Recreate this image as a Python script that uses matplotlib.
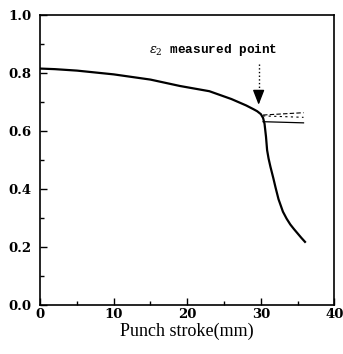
import numpy as np
import matplotlib.pyplot as plt
from matplotlib.ticker import MultipleLocator

# main curve: strain ratio vs punch stroke
stroke = [0, 2, 5, 10, 15, 19, 23, 26, 28, 29, 29.5, 30.0, 30.3, 30.5, 30.7, 30.85, 31.05, 31.3, 31.7,
          32.0, 32.4, 33.0, 33.5, 34.0, 34.5, 35.0, 35.5, 36.0]
ratio = [0.815, 0.813, 0.808, 0.795, 0.777, 0.755, 0.737, 0.71, 0.688, 0.675, 0.668, 0.658, 0.645,
         0.625, 0.58, 0.534, 0.505, 0.477, 0.437, 0.405, 0.365, 0.322, 0.298, 0.278, 0.262, 0.247,
         0.232, 0.218]

# branches after the measured point
branch_x = [30.3, 35.8]
branch_solid = [0.632, 0.628]
branch_dash1 = [0.655, 0.663]
branch_dash2 = [0.652, 0.647]

meas_x = 29.7

plt.rcParams['mathtext.fontset'] = 'dejavuserif'
fig = plt.figure(figsize=(3.43, 3.54), dpi=100)
ax = fig.add_axes([0.117, 0.138, 0.858, 0.82])

ax.plot(stroke, ratio, color='black', lw=1.6)
ax.plot(branch_x, branch_solid, color='black', lw=0.9)
ax.plot(branch_x, branch_dash1, color='black', lw=0.8, ls=(0, (4, 2)))
ax.plot(branch_x, branch_dash2, color='black', lw=0.8, ls=(0, (2, 3)))

# dotted arrow to measured point
ax.plot([meas_x, meas_x], [0.83, 0.73], color='black', lw=1.0, ls=':')
ax.annotate('', xy=(meas_x, 0.69), xytext=(meas_x, 0.735),
            arrowprops=dict(arrowstyle='-|>,head_length=0.9,head_width=0.35',
                            color='black', lw=1.0, shrinkA=0, shrinkB=0))
ax.text(14.8, 0.88, r'$\varepsilon_2$ measured point', family='Liberation Mono',
        weight='bold', fontsize=9.2, ha='left', va='center')

ax.set_xlim(0, 40)
ax.set_ylim(0, 1.0)
ax.xaxis.set_major_locator(MultipleLocator(10))
ax.xaxis.set_minor_locator(MultipleLocator(5))
ax.yaxis.set_major_locator(MultipleLocator(0.2))
ax.yaxis.set_minor_locator(MultipleLocator(0.1))
ax.yaxis.set_major_formatter(plt.FormatStrFormatter('%.1f'))
ax.tick_params(which='both', direction='in', width=1.0)
ax.tick_params(which='major', length=5)
ax.tick_params(which='minor', length=3)
ax.tick_params(axis='x', pad=2)
ax.tick_params(axis='y', pad=6)
for lab in ax.get_xticklabels() + ax.get_yticklabels():
    lab.set_family('DejaVu Serif')
    lab.set_weight('bold')
    lab.set_fontsize(9.5)
for s in ax.spines.values():
    s.set_linewidth(1.2)

ax.set_xlabel('Punch stroke(mm)', family='Liberation Serif', fontsize=13, labelpad=1)

fig.savefig('out.png', dpi=100)
